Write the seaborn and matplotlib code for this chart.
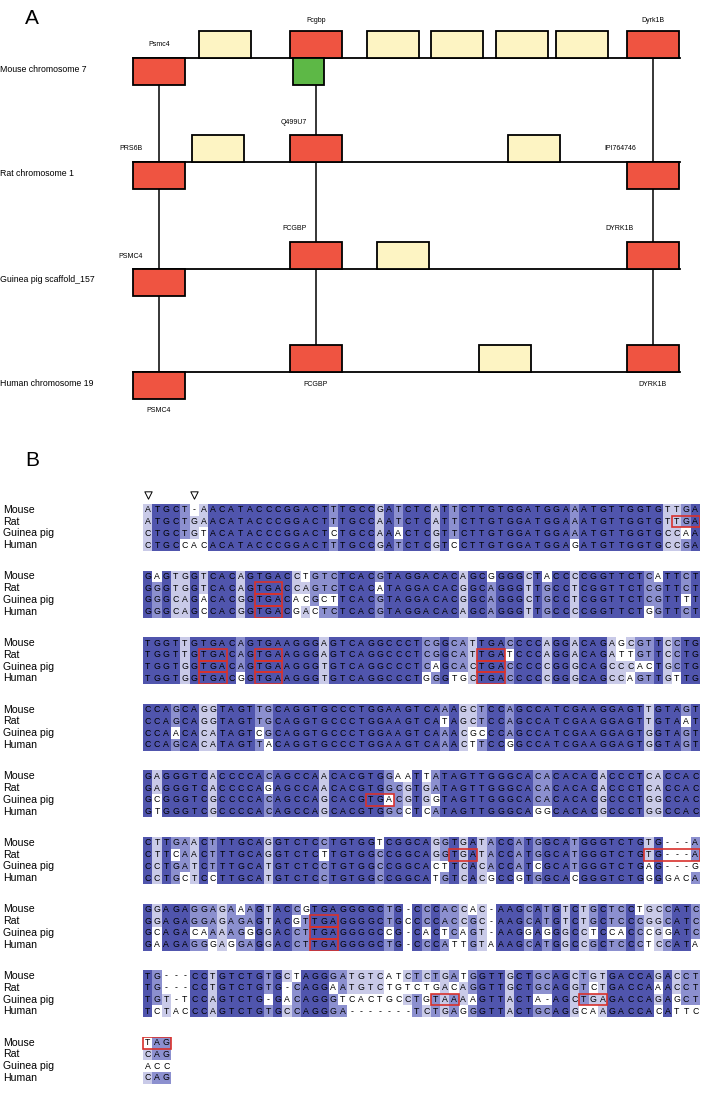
import numpy as np
import matplotlib
matplotlib.use("Agg")
import matplotlib.pyplot as plt
from matplotlib.colors import ListedColormap
from matplotlib.patches import Rectangle
import seaborn as sns

plt.rcParams["font.family"] = ["Liberation Sans", "DejaVu Sans"]

# ---------------- panel A data ----------------
tracks = ["Mouse chromosome 7", "Rat chromosome 1",
          "Guinea pig scaffold_157", "Human chromosome 19"]
# (name, left edge, kind, side of the chromosome line)
mouse_genes = [("Psmc4", 133, "ortholog", "below"), ("", 199, "other", "above"),
               ("Fcgbp", 290, "ortholog", "above"), ("", 293, "pseudo", "below"),
               ("", 367, "other", "above"), ("", 431, "other", "above"),
               ("", 496, "other", "above"), ("", 556, "other", "above"),
               ("Dyrk1B", 627, "ortholog", "above")]
rat_genes = [("PRS6B", 133, "ortholog", "below"), ("", 192, "other", "above"),
             ("Q499U7", 290, "ortholog", "above"), ("", 508, "other", "above"),
             ("IPI764746", 627, "ortholog", "below")]
guinea_pig_genes = [("PSMC4", 133, "ortholog", "below"), ("FCGBP", 290, "ortholog", "above"),
                    ("", 377, "other", "above"), ("DYRK1B", 627, "ortholog", "above")]
human_genes = [("PSMC4", 133, "ortholog", "below"), ("FCGBP", 290, "ortholog", "above"),
               ("", 479, "other", "above"), ("DYRK1B", 627, "ortholog", "above")]
# label offsets (dx from box centre, dy from chromosome line)
label_offsets = {
    0: {"Psmc4": (0, -14), "Fcgbp": (0, -38), "Dyrk1B": (0, -38)},
    1: {"PRS6B": (-28, -14), "Q499U7": (-22, -39), "IPI764746": (-33, -14)},
    2: {"PSMC4": (-28, -12), "FCGBP": (-21, -40), "DYRK1B": (-33, -40)},
    3: {"PSMC4": (0, 38), "FCGBP": (0, 13), "DYRK1B": (0, 13)},
}

# ---------------- panel B data ----------------
species = ["Mouse", "Rat", "Guinea pig", "Human"]
mouse_seq = [
    "ATGCT-AACATACCCGGACTTTGCCGATCTCATTCTTGTGGATGGAAATGTTGGTGTTGA",
    "GAGTGGTCACAGTGACCTGTCTCACGTAGGACACAGCGGGGCTACCCCGGTTCTCATTCT",
    "TGGTTGTGACAGTGAAGGGAGTCAGGCCCTCGGCATTGACCCCAGGACAGAGCGTTCCTG",
    "CCAGCAGGTAGTTGCAGGTGCCCTGGAAGTCAAAGCTCCAGCCATCGAAGGAGTTGTAGT",
    "GAGGGTCACCCCACAGCCAACACGTGGAATTATAGTTGGGCACACACACACCCTCACCAC",
    "CTTGAACTTTGCAGGTCTCCTGTGGTCGGCAGGTGATACCATGGCATGGGTCTGTG---A",
    "GGAGAGGAGAAAGTACCGTGAGGGGCTG-CCCACCAC-AAGCATGTCTGCTCCTGCCATC",
    "TG---CCTGTCTGTGCTAGGGATGTCATCTCTGATGGTTGCTGCAGCTGTGACCAGACCT",
    "TAG",
]
rat_seq = [
    "ATGCTGAACATACCCGGACTTTGCCAATCTCATTCTTGTGGATGGAAATGTTGGTGTTGA",
    "GGGTGGTCACAGTGACCAGTCTCACATAGGACACGGCAGGGTTGCCTCGGTTCTCGTTCT",
    "TGGTTGTGACAGTGAAGGGAGTCAGGCCCTCGGCATTGATCCCAGGACAGATTGTTCCTG",
    "CCAGCAGGTAGTTGCAGGTGCCCTGGAAGTCATAGCTCCAGCCATCGAAGGAGTTGTAAT",
    "GAGGGTCACCCCAGAGCCAACACGTGGCGTGATAGTTGGGCACACACACACCCTCACCAC",
    "CTTCAACTTTGCAGGTCTCTTGTGGCCGGCAGGTGATACCATGGCATGGGTCTGTG---A",
    "GGAGAGGAGAGAGTACGTTGAGGGGCTGCCCCACCGC-AAGCATGTCTGCTCCCGGCATC",
    "TG---CCTGTCTGTG-CAGGAATGTCTGTCTGACAGGTTGCTGCAGGTCTGACCAAACCT",
    "CAG",
]
guinea_pig_seq = [
    "CTGCTGTACATACCCGGACTCTGCCAAACTCGTTCTTGTGGATGGAAATGTTGGTGCCAA",
    "GGGCAGACACGGTGACACGCTTCACGTAGGACACGGCAGGGCTGCCTCGGTTCTCGTTTT",
    "TGGTGGTGACAGTGAAGGGTGTCAGGCCCTCAGCACTGACCCCCGGGCAGCCCACTGCTG",
    "CCAACACATAGTCGCAGGTGCCCTGGAAGTCAAACGCCCAGCCATCGAAGGAGTGGTAGT",
    "GCGGGTCGCCCCACAGCCAGCACGTGACGTGGTAGTTGGGCACACACACGCCCTGGCCAC",
    "CCTGATCTTTGCATGTCTCCTGTGGCCGGCACTTCACACCATCGCATGGGTCTGAG---G",
    "GCAGACAAAAGGGGACCTTGAGGGGCCG-CACTCAGT-AAGGAGGGCCTCCACCCGGATC",
    "TGT-TCCAGTCTG-GACAGGGTCACTGCCTGTAAAAGTTACTA-AGCTGAGACCAGAGCT",
    "ACC",
]
human_seq = [
    "CTGCCACACATACCCGGACTTTGCCGATCTCGTCCTTGTGGATGGAGATGTTGGTGCCGA",
    "GGGCAGCCACGGTGACGACTCTCACGTAGGACACAGCAGGGTTGCCCCGGTTCTGGTTCT",
    "TGGTGGTGACGGTGAAGGGTGTCAGGCCCTGGGTGCTGACCCCCGGGCAGCCAGTTGTTG",
    "CCAGCACATAGTTACAGGTGCCCTGGAAGTCAAACTTCCGGCCATCGAAGGAGTGGTAGT",
    "GTGGGTCGCCCCACAGCCAGCACGTGGCCTCATAGTTGGGCAGGCACACGCCCTGGCCAC",
    "CCTGCTCCTTGCATGTCTCCTGTGGCCGGCATGTCACGCCGTGGCACGGGTCTGGGGACA",
    "GAAGAGGGAGGAGGACCTTGAGGGGCTG-CCCATTGTAAAGCATGGCCGCTCCCTCCATA",
    "TCTACCCAGTCTGTGCCAGGGA-------TCTGAGGGTTACTGCAGGCAAGACCACATTC",
    "CAG",
]
# stop codons: (block, first row, last row, first col, last col)
stop_boxes = [(0, 1, 1, 57, 59), (1, 1, 3, 12, 14),
              (2, 1, 3, 6, 8), (2, 1, 3, 12, 14), (2, 1, 3, 36, 38),
              (4, 2, 2, 24, 26), (5, 1, 1, 33, 35), (5, 1, 1, 54, 59),
              (6, 1, 3, 18, 20), (7, 2, 2, 31, 33), (7, 2, 2, 47, 49),
              (8, 0, 0, 0, 2)]
gap_marks = [0, 5]

colors = {"ortholog": "#EF5441", "other": "#FDF4C3", "pseudo": "#5DB846"}
pid_cmap = ListedColormap(["#FFFFFF", "#C9CAE8", "#8C90CF", "#5055AD"])


def identity_levels(letters):
    n = letters.shape[0]
    levels = np.zeros(letters.shape, dtype=int)
    for j in range(letters.shape[1]):
        col = [c for c in letters[:, j] if c != "-"]
        if not col:
            continue
        counts = {c: col.count(c) for c in set(col)}
        top = max(counts.values())
        pct = top / n
        lev = 3 if pct > 0.8 else 2 if pct > 0.6 else 1 if pct > 0.4 else 0
        for i in range(n):
            if letters[i, j] != "-" and counts.get(letters[i, j], 0) == top:
                levels[i, j] = lev
    return levels


W, H = 725, 1103
fig = plt.figure(figsize=(W / 100, H / 100), dpi=100)

# ---------------- panel A ----------------
axA = fig.add_axes([0, 1 - 425 / H, 1, 425 / H])
axA.set_xlim(0, W)
axA.set_ylim(425, 0)
axA.axis("off")
line_y = [58, 162, 269, 372]
all_genes = [mouse_genes, rat_genes, guinea_pig_genes, human_genes]
box_h = 27

group_x = [g[1] + 26 for g in mouse_genes if g[2] == "ortholog"]
for k in range(3):
    for x in group_x:
        axA.plot([x, x], [line_y[k], line_y[k + 1]], color="black", lw=1.1, zorder=1)

for k, genes in enumerate(all_genes):
    y = line_y[k]
    axA.plot([133, 680], [y, y], color="black", lw=1.3, zorder=1)
    axA.text(0, y + 11, tracks[k], fontsize=6.3, va="center", ha="left")
    for name, x0, kind, side in genes:
        w = 31 if kind == "pseudo" else 52
        top = y - box_h if side == "above" else y
        axA.add_patch(Rectangle((x0, top), w, box_h, facecolor=colors[kind],
                                edgecolor="black", lw=1.3, zorder=2))
        if name:
            dx, dy = label_offsets[k][name]
            axA.text(x0 + w / 2 + dx, y + dy, name, fontsize=5,
                     ha="center", va="center")
axA.text(32, 18, "A", fontsize=15, ha="center", va="center")

# ---------------- panel B ----------------
fig.text(32 / W, 1 - 461 / H, "B", fontsize=15, ha="center", va="center")
blocks = list(zip(mouse_seq, rat_seq, guinea_pig_seq, human_seq))
row_h = 11.75
for b, rows in enumerate(blocks):
    letters = np.array([list(s) for s in rows])
    levels = identity_levels(letters)
    top = 504 + b * 66.6
    ax = fig.add_axes([3 / W, 1 - (top + 4 * row_h) / H, 697 / W, 4 * row_h / H])
    sns.heatmap(levels, annot=letters, fmt="", cmap=pid_cmap, vmin=-0.5, vmax=3.5,
                cbar=False, linewidths=0, xticklabels=False, yticklabels=False,
                annot_kws={"fontsize": 6.3, "color": "black"}, ax=ax)
    ax.set_xlim(-15.1, 60)
    ax.set_ylim(4, 0)
    for i, name in enumerate(species):
        ax.text(-15.1, i + 0.5, name, fontsize=7.6, ha="left", va="center")
    for bb, r0, r1, c0, c1 in stop_boxes:
        if bb != b:
            continue
        for r in range(r0, r1 + 1):
            ax.add_patch(Rectangle((c0, r), c1 - c0 + 1, 1, fill=False,
                                   edgecolor="#D8312C", lw=1.2, zorder=5))
    if b == 0:
        ax.scatter([c + 0.5 for c in gap_marks], [-0.8] * len(gap_marks), marker="v",
                   s=28, facecolor="white", edgecolor="black", lw=0.7, clip_on=False)

fig.savefig("out.png", dpi=100)
